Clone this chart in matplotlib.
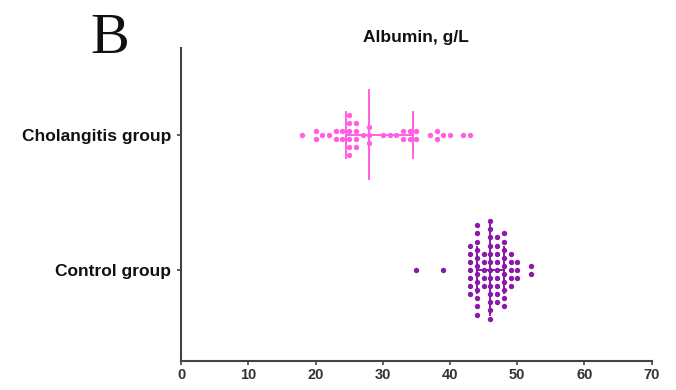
import numpy as np
import matplotlib
matplotlib.use("Agg")
import matplotlib.pyplot as plt

# Albumin values (g/L)
groups = ["Cholangitis group", "Control group"]
cholangitis = [18, 20, 20, 21, 22, 23, 23, 24, 24,
               25, 25, 25, 25, 25, 25, 26, 26, 26, 26, 27,
               28, 28, 28, 30, 31, 32, 33, 33, 34, 34, 35, 35,
               37, 38, 38, 39, 40, 42, 43]
control = ([35, 39] + [43] * 7 + [44] * 12 + [45] * 5 + [46] * 13 +
           [47] * 9 + [48] * 10 + [49] * 5 + [50] * 3 + [52] * 2)

# median and interquartile range as drawn in the figure
medians = [28, 46]
q1 = [24.5, 44]
q3 = [34.5, 48]

colors = ["#ff5fe0", "#8a1aa8"]
xticks = [0, 10, 20, 30, 40, 50, 60, 70]

plt.rcParams["font.family"] = ["Liberation Sans", "DejaVu Sans"]

fig = plt.figure(figsize=(6.76, 3.90), dpi=100)
ax = fig.add_axes([0.268, 0.0744, 0.696, 0.803])

ypos = [1, 0]
step = 0.06  # vertical spacing between stacked dots
for vals, y, c in zip([cholangitis, control], ypos, colors):
    vals = np.array(vals)
    xs, ys = [], []
    for v in np.unique(vals):
        n = np.sum(vals == v)
        offs = (np.arange(n) - (n - 1) / 2) * step
        xs += [v] * n
        ys += list(y + offs)
    ax.scatter(xs, ys, s=15, color=c, zorder=3, linewidths=0)

for y, c, m, a, b in zip(ypos, colors, medians, q1, q3):
    ax.plot([a, b], [y, y], color=c, lw=1.4, zorder=4)
    ax.plot([m, m], [y - 0.33, y + 0.33], color=c, lw=1.4, zorder=4)
    ax.plot([a, a], [y - 0.17, y + 0.17], color=c, lw=1.4, zorder=4)
    ax.plot([b, b], [y - 0.17, y + 0.17], color=c, lw=1.4, zorder=4)

ax.set_xlim(0, 70)
ax.set_ylim(-0.674, 1.644)
ax.set_xticks(xticks)
ax.set_xticklabels([str(t) for t in xticks], fontsize=10.5,
                   fontweight="bold", color="#333333")
ax.set_yticks(ypos)
ax.set_yticklabels(groups, fontsize=12.5, fontweight="bold", color="#111111")

for s in ["top", "right"]:
    ax.spines[s].set_visible(False)
for s in ["left", "bottom"]:
    ax.spines[s].set_linewidth(1.5)
    ax.spines[s].set_color("#444444")
ax.tick_params(axis="both", color="#444444", width=1.2, length=3)
ax.tick_params(axis="x", pad=2)
ax.tick_params(axis="y", pad=4)

fig.text(0.616, 0.905, "Albumin, g/L", ha="center", va="center",
         fontsize=12.5, fontweight="bold", color="#111111")
fig.text(0.163, 0.864, "B", ha="center", va="baseline",
         fontsize=42, family="Liberation Serif", color="#111111")

fig.savefig("out.png", dpi=100)
